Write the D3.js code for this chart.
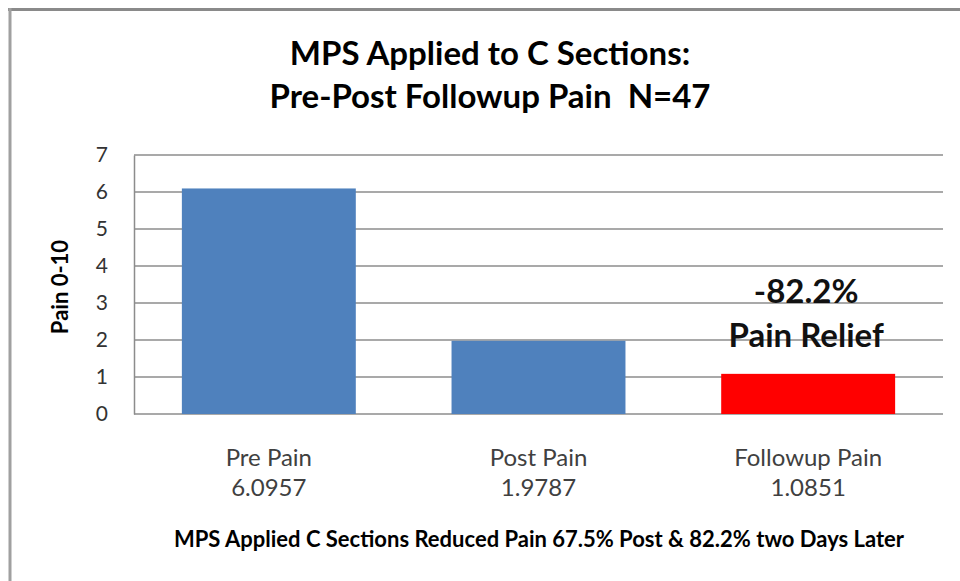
<!DOCTYPE html>
<html>
<head>
<meta charset="utf-8">
<script src="https://cdn.jsdelivr.net/npm/d3@7"></script>
<style>
  body { margin: 0; background: #fff; }
  svg { display: block; }
</style>
</head>
<body>
<script>
  const categories = ["Pre Pain", "Post Pain", "Followup Pain"];
  const painValues = [6.0957, 1.9787, 1.0851];
  const valueLabels = ["6.0957", "1.9787", "1.0851"];
  const barColors = ["#4f81bd", "#4f81bd", "#ff0000"];
  const yTicks = [0, 1, 2, 3, 4, 5, 6, 7];
  const titleLines = ["MPS Applied to C Sections:", "Pre-Post Followup Pain  N=47"];
  const noteLines = ["-82.2%", "Pain Relief"];
  const footnote = "MPS Applied C Sections Reduced Pain 67.5% Post & 82.2% two Days Later";

  const width = 960, height = 581;
  const margin = { top: 155, right: 17, bottom: 167, left: 134 };
  const font = "Lato, 'Open Sans', sans-serif";

  const svg = d3.select("body").append("svg")
    .attr("width", width)
    .attr("height", height);

  // frame (only top and left edges show)
  svg.append("line")
    .attr("x1", 8).attr("x2", width).attr("y1", 9.5).attr("y2", 9.5)
    .attr("stroke", "#8a8a8a").attr("stroke-width", 3);
  svg.append("line")
    .attr("x1", 10).attr("x2", 10).attr("y1", 8).attr("y2", height)
    .attr("stroke", "#a0a0a0").attr("stroke-width", 3);

  const x = d3.scaleBand()
    .domain(categories)
    .range([margin.left, width - margin.right])
    .paddingInner(0.355)
    .paddingOuter(0.1775);

  const y = d3.scaleLinear()
    .domain([0, 7])
    .range([height - margin.bottom, margin.top]);

  // gridlines
  svg.append("g")
    .selectAll("line")
    .data(yTicks)
    .enter()
    .append("line")
    .attr("x1", margin.left)
    .attr("x2", width - margin.right)
    .attr("y1", (d) => y(d))
    .attr("y2", (d) => y(d))
    .attr("stroke", "#8c8c8c")
    .attr("stroke-width", 1.5);

  // y axis
  const yAxis = svg.append("g")
    .attr("transform", `translate(${margin.left},0)`)
    .call(d3.axisLeft(y).tickValues(yTicks).tickFormat(d3.format("d")).tickSize(0).tickPadding(26));
  yAxis.select(".domain").attr("stroke", "#8c8c8c").attr("stroke-width", 1.5);
  yAxis.selectAll(".tick text")
    .attr("font-family", font)
    .attr("font-size", 21)
    .attr("fill", "#333");

  // bars
  svg.append("g")
    .selectAll("rect")
    .data(painValues)
    .enter()
    .append("rect")
    .attr("x", (d, i) => x(categories[i]))
    .attr("width", x.bandwidth())
    .attr("y", (d) => y(d))
    .attr("height", (d) => y(0) - y(d))
    .attr("fill", (d, i) => barColors[i]);

  // category labels
  const catG = svg.append("g")
    .attr("font-family", font)
    .attr("font-size", 24)
    .attr("fill", "#404040")
    .attr("text-anchor", "middle");
  catG.selectAll(".cat")
    .data(categories)
    .enter()
    .append("text")
    .attr("x", (d) => x(d) + x.bandwidth() / 2)
    .attr("y", 466)
    .text((d) => d);
  catG.selectAll(".val")
    .data(valueLabels)
    .enter()
    .append("text")
    .attr("x", (d, i) => x(categories[i]) + x.bandwidth() / 2)
    .attr("y", 496)
    .text((d) => d);

  // title
  svg.append("g")
    .attr("font-family", font)
    .attr("font-weight", "bold")
    .attr("font-size", 33)
    .attr("fill", "#000")
    .attr("text-anchor", "middle")
    .selectAll("text")
    .data(titleLines)
    .enter()
    .append("text")
    .attr("x", 490)
    .attr("y", (d, i) => 65 + i * 43)
    .attr("xml:space", "preserve")
    .text((d) => d);

  // y axis title
  svg.append("text")
    .attr("transform", "translate(68,287) rotate(-90)")
    .attr("font-family", font)
    .attr("font-weight", "bold")
    .attr("font-size", 22)
    .attr("text-anchor", "middle")
    .text("Pain 0-10");

  // annotation over the followup bar
  const last = categories[categories.length - 1];
  svg.append("g")
    .attr("font-family", font)
    .attr("font-weight", "bold")
    .attr("font-size", 33)
    .attr("fill", "#111")
    .attr("text-anchor", "middle")
    .selectAll("text")
    .data(noteLines)
    .enter()
    .append("text")
    .attr("x", x(last) + x.bandwidth() / 2 - 2)
    .attr("y", (d, i) => 303 + i * 44)
    .text((d) => d);

  // footnote
  svg.append("text")
    .attr("x", 539)
    .attr("y", 547)
    .attr("font-family", font)
    .attr("font-weight", "bold")
    .attr("font-size", 22)
    .attr("text-anchor", "middle")
    .text(footnote);
</script>
</body>
</html>
